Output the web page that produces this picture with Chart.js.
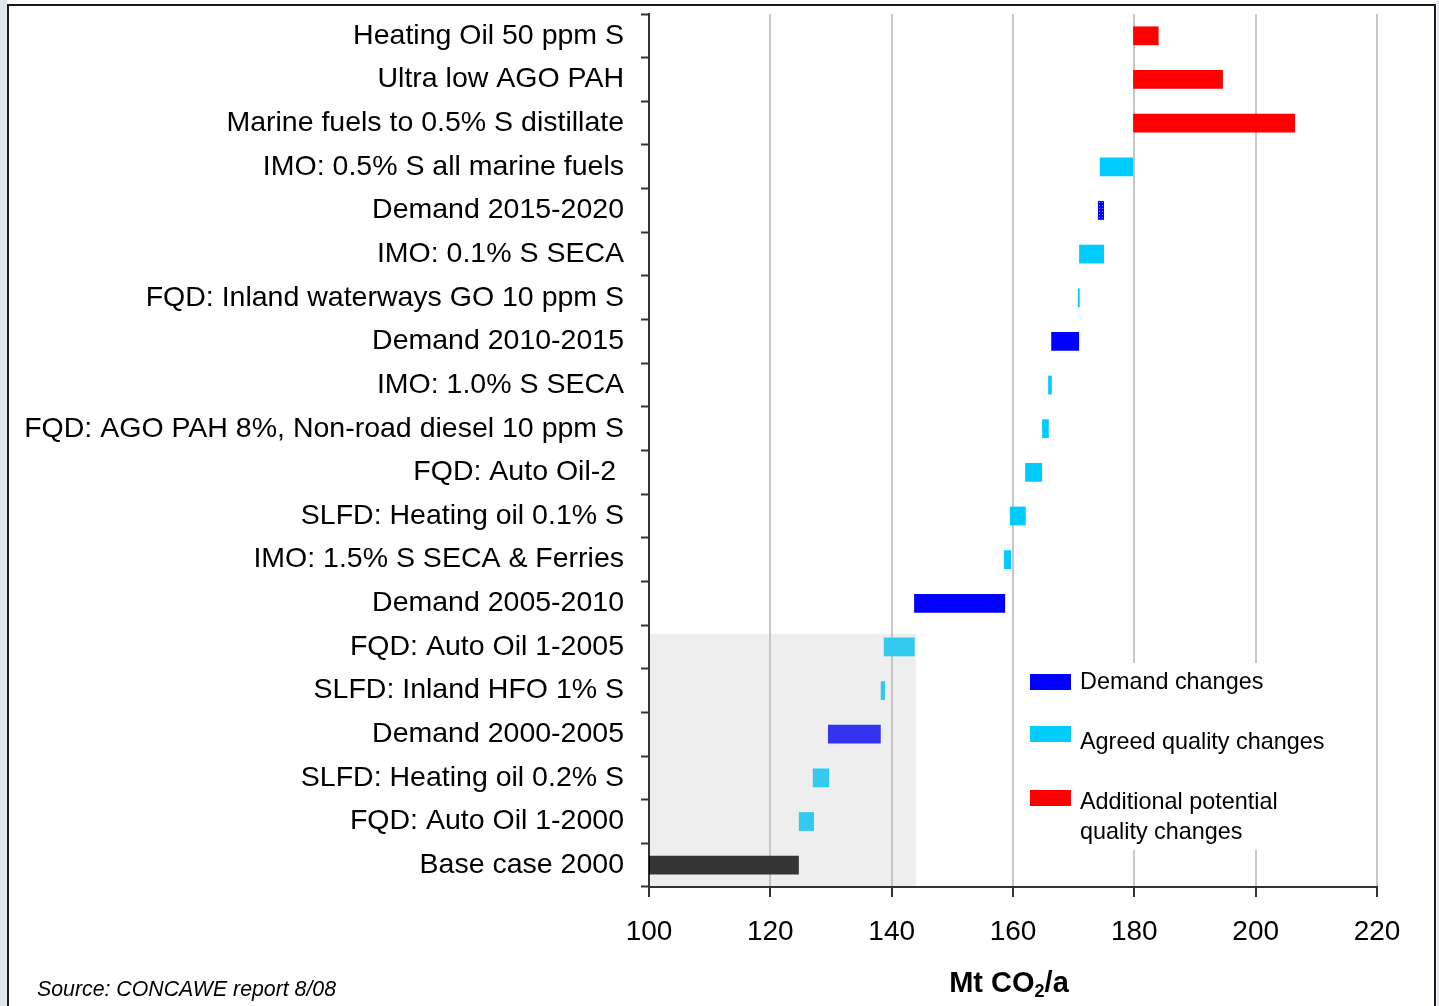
<!DOCTYPE html>
<html>
<head>
<meta charset="utf-8">
<script src="https://cdn.jsdelivr.net/npm/chart.js@4/dist/chart.umd.min.js"></script>
<style>
  html, body { margin: 0; padding: 0; background: #fff; }
  #wrap { position: relative; width: 1439px; height: 1006px; }
</style>
</head>
<body>
<div id="wrap"><canvas id="chart" width="1439" height="1006"></canvas></div>
<script>
// categories, top to bottom
const categories = [
  'Heating Oil 50 ppm S',
  'Ultra low AGO PAH',
  'Marine fuels to 0.5% S distillate',
  'IMO: 0.5% S all marine fuels',
  'Demand 2015-2020',
  'IMO: 0.1% S SECA',
  'FQD: Inland waterways GO 10 ppm S',
  'Demand 2010-2015',
  'IMO: 1.0% S SECA',
  'FQD: AGO PAH 8%, Non-road diesel 10 ppm S',
  'FQD: Auto Oil-2 ',
  'SLFD: Heating oil 0.1% S',
  'IMO: 1.5% S SECA & Ferries',
  'Demand 2005-2010',
  'FQD: Auto Oil 1-2005',
  'SLFD: Inland HFO 1% S',
  'Demand 2000-2005',
  'SLFD: Heating oil 0.2% S',
  'FQD: Auto Oil 1-2000',
  'Base case 2000'
];
const barStart = [179.8, 179.8, 179.8, 174.3, 174.0, 170.9, 170.7, 166.3, 165.8, 164.8,
                  162.0, 159.5, 158.5, 143.7, 138.7, 138.2, 129.5, 127.0, 124.7, 100];
const barEnd   = [184.0, 194.6, 206.5, 179.8, 175.0, 175.0, 171.0, 170.9, 166.4, 165.9,
                  164.8, 162.1, 159.7, 158.7, 143.8, 138.9, 138.2, 129.7, 127.2, 124.7];
const changeType = ['additional', 'additional', 'additional', 'agreed', 'demand', 'agreed', 'agreed',
                    'demand', 'agreed', 'agreed', 'agreed', 'agreed', 'agreed', 'demand', 'agreed',
                    'agreed', 'demand', 'agreed', 'agreed', 'base'];
const hatchedCategory = 'Demand 2015-2020';
const xTicks = [100, 120, 140, 160, 180, 200, 220];

const seriesNames = {
  demand: 'Demand changes',
  agreed: 'Agreed quality changes',
  additional: 'Additional potential quality changes',
  base: 'Base case'
};
const seriesColors = { demand: '#0000ff', agreed: '#00ccff', additional: '#ff0000', base: '#000000' };

// shaded "already agreed" zone (x range in Mt, top edge in category index units)
const shadeRange = [100, 144];
const shadeTopIndex = 13.7;

const FONT = '"Liberation Sans", Arial, sans-serif';

function makeHatch() {
  const c = document.createElement('canvas');
  c.width = 3; c.height = 3;
  const g = c.getContext('2d');
  g.fillStyle = '#0000ff';
  g.fillRect(0, 0, 3, 3);
  g.fillStyle = '#8c8cff';
  g.fillRect(1, 1, 1, 1);
  return g.createPattern(c, 'repeat');
}
const hatch = makeHatch();

const datasets = ['base', 'demand', 'agreed', 'additional'].map(type => ({
  label: seriesNames[type],
  data: categories.map((c, i) => changeType[i] === type ? [barStart[i], barEnd[i]] : null),
  backgroundColor: categories.map(c => (type === 'demand' && c === hatchedCategory) ? hatch : seriesColors[type]),
  borderWidth: 0,
  barPercentage: 0.43,
  categoryPercentage: 1,
  grouped: false
}));

const decorations = {
  id: 'decorations',
  beforeDraw(chart) {
    const ctx = chart.ctx;
    ctx.save();
    ctx.fillStyle = '#ffffff';
    ctx.fillRect(0, 0, chart.width, chart.height);
    ctx.restore();
  },
  afterDatasetsDraw(chart) {
    const ctx = chart.ctx;
    const xs = chart.scales.x, ys = chart.scales.y;
    const left = xs.getPixelForValue(shadeRange[0]) + 1;
    const right = xs.getPixelForValue(shadeRange[1]);
    const top = ys.getPixelForValue(shadeTopIndex);
    const bottom = chart.chartArea.bottom - 1;
    ctx.save();
    ctx.fillStyle = 'rgba(191,191,191,0.27)';
    ctx.fillRect(left, top, right - left, bottom - top);
    ctx.restore();
  },
  afterDraw(chart) {
    const ctx = chart.ctx;
    ctx.save();

    // legend
    ctx.fillStyle = '#ffffff';
    ctx.fillRect(1018, 663, 314, 187);
    const items = [
      { type: 'demand', sy: 674, lines: ['Demand changes'], ty: 683 },
      { type: 'agreed', sy: 726, lines: ['Agreed quality changes'], ty: 743 },
      { type: 'additional', sy: 790, lines: ['Additional potential', 'quality changes'], ty: 803 }
    ];
    ctx.font = '23.4px ' + FONT;
    ctx.textBaseline = 'middle';
    ctx.textAlign = 'left';
    items.forEach(it => {
      ctx.fillStyle = seriesColors[it.type];
      ctx.fillRect(1030, it.sy, 41, 16);
      ctx.fillStyle = '#000';
      it.lines.forEach((t, k) => ctx.fillText(t, 1080, it.ty + k * 30));
    });

    // axis title with subscript
    const cx = (chart.chartArea.left + chart.chartArea.right) / 2 - 4;
    const base = 992;
    const big = 'bold 29px ' + FONT;
    const small = 'bold 18px ' + FONT;
    ctx.textBaseline = 'alphabetic';
    ctx.font = big;
    const w1 = ctx.measureText('Mt CO').width;
    const w3 = ctx.measureText('/a').width;
    ctx.font = small;
    const w2 = ctx.measureText('2').width;
    let x0 = cx - (w1 + w2 + w3) / 2;
    ctx.fillStyle = '#000';
    ctx.font = big;
    ctx.fillText('Mt CO', x0, base);
    ctx.font = small;
    ctx.fillText('2', x0 + w1, base + 5);
    ctx.font = big;
    ctx.fillText('/a', x0 + w1 + w2, base);

    // source note
    ctx.font = 'italic 21.3px ' + FONT;
    ctx.fillText('Source: CONCAWE report 8/08', 37, 996);

    // outer frame
    ctx.fillStyle = '#dfe6ee';
    ctx.fillRect(0, 0, 7, chart.height);
    ctx.fillRect(1437, 0, 2, chart.height);
    ctx.strokeStyle = '#1a1a1a';
    ctx.lineWidth = 2;
    ctx.beginPath();
    ctx.moveTo(8, chart.height);
    ctx.lineTo(8, 5);
    ctx.lineTo(1435, 5);
    ctx.lineTo(1435, chart.height);
    ctx.stroke();
    ctx.restore();
  }
};

new Chart(document.getElementById('chart'), {
  type: 'bar',
  data: { labels: categories, datasets: datasets },
  options: {
    indexAxis: 'y',
    responsive: false,
    animation: false,
    layout: { padding: { top: 14, right: 62, bottom: 0, left: 0 } },
    plugins: {
      legend: { display: false },
      tooltip: { enabled: false }
    },
    scales: {
      x: {
        min: 100,
        max: 220,
        afterBuildTicks: scale => { scale.ticks = xTicks.map(v => ({ value: v })); },
        afterFit: scale => { scale.height = 119; scale.paddingLeft = 0; scale.paddingRight = 0; },
        border: { color: '#333', width: 2 },
        grid: { color: '#c8c8c8', lineWidth: 2, tickColor: '#333', tickLength: 10, tickWidth: 2 },
        ticks: {
          color: '#000',
          padding: 18,
          font: { family: FONT, size: 28 }
        }
      },
      y: {
        afterFit: scale => { scale.width = 649; scale.paddingTop = 0; scale.paddingBottom = 0; },
        border: { color: '#333', width: 2 },
        grid: { drawOnChartArea: false, offset: true, tickColor: '#333', tickLength: 8, tickWidth: 2 },
        ticks: {
          color: '#000',
          padding: 17,
          font: { family: FONT, size: 28.5 }
        }
      }
    }
  },
  plugins: [decorations]
});
</script>
</body>
</html>
